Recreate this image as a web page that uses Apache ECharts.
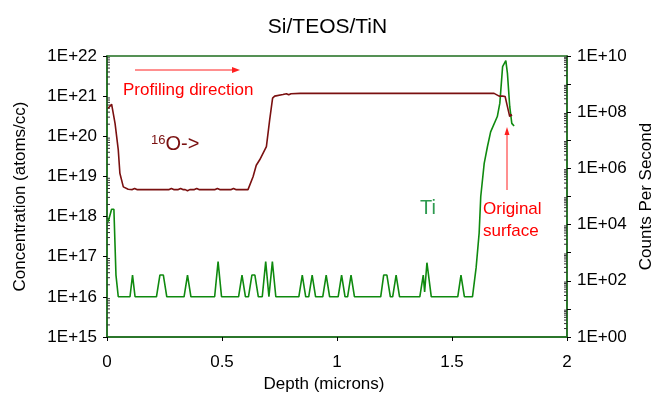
<!DOCTYPE html>
<html>
<head>
<meta charset="utf-8">
<script src="https://cdn.jsdelivr.net/npm/echarts@6/dist/echarts.min.js"></script>
<style>
  html, body { margin: 0; padding: 0; background: #fff; }
  #main { width: 655px; height: 394px; }
</style>
</head>
<body>
<div id="main"></div>
<script>
// depth profile, values
var oDepth = [0.005, 0.02, 0.027, 0.035, 0.049, 0.056, 0.071, 0.092, 0.11, 0.12, 0.13, 0.27, 0.28, 0.29,
  0.31, 0.32, 0.33, 0.34, 0.35, 0.36, 0.38, 0.39, 0.40, 0.47, 0.48, 0.49, 0.54, 0.55, 0.56, 0.613,
  0.635, 0.649, 0.664, 0.693, 0.707, 0.72, 0.729, 0.765, 0.78, 0.79, 0.80, 0.84, 1.683, 1.705, 1.72,
  1.731, 1.741, 1.751, 1.756, 1.76];
var oConc = [5.0e20, 6.3e20, 6.6e20, 2.1e20, 4.6e19, 1.2e19, 5.5e18, 4.8e18, 4.7e18, 5.0e18, 4.7e18, 4.7e18, 5.0e18, 4.7e18,
  4.7e18, 5.0e18, 4.7e18, 4.7e18, 4.4e18, 4.7e18, 4.7e18, 5.0e18, 4.7e18, 4.7e18, 5.0e18, 4.7e18, 4.7e18, 5.0e18, 4.7e18, 4.7e18,
  9.8e18, 1.9e19, 2.6e19, 5.5e19, 2.5e20, 8.9e20, 1.0e21, 1.1e21, 1.15e21, 1.08e21, 1.15e21, 1.17e21, 1.17e21, 1.0e21, 1.0e21,
  9.8e20, 5.5e20, 3.1e20, 3.5e20, 3.2e20];

var tiDepth = [0.005, 0.02, 0.03, 0.039, 0.049, 0.10, 0.111, 0.122, 0.215, 0.23, 0.245, 0.26, 0.335, 0.35, 0.365,
  0.468, 0.483, 0.498, 0.572, 0.587, 0.602, 0.615, 0.63, 0.643, 0.658, 0.675, 0.69, 0.704, 0.719, 0.734,
  0.834, 0.849, 0.864, 0.877, 0.892, 0.907, 0.938, 0.953, 0.968, 1.005, 1.02, 1.035, 1.046, 1.061, 1.076,
  1.19, 1.203, 1.217, 1.232, 1.242, 1.257, 1.272, 1.36, 1.375, 1.381, 1.391, 1.41, 1.525, 1.539, 1.554,
  1.589, 1.605, 1.618, 1.625, 1.64, 1.654, 1.668, 1.697, 1.708, 1.72, 1.734, 1.741, 1.751, 1.76, 1.77];
var tiCounts = [1.26e4, 3.5e4, 3.5e4, 160, 27, 27, 160, 27, 27, 160, 160, 27, 27, 160, 27,
  27, 480, 27, 27, 160, 27, 27, 160, 160, 27, 27, 480, 27, 480, 27,
  27, 160, 27, 27, 160, 27, 27, 160, 27, 27, 160, 27, 27, 160, 27,
  27, 160, 160, 27, 27, 160, 27, 27, 160, 40, 440, 27, 27, 160, 27,
  27, 300, 5000, 1e5, 1.5e6, 5.9e6, 2e7, 7e7, 2.1e8, 4.2e9, 6.8e9, 2.4e9, 1.6e8, 4e7, 3.2e7];

var leftDecades = [15, 16, 17, 18, 19, 20, 21];
var rightDecades = [0, 1, 2, 3, 4, 5, 6, 7, 8, 9];

function pairs(xs, ys) {
  var out = [];
  for (var i = 0; i < xs.length; i++) out.push([xs[i], ys[i]]);
  return out;
}
function minorTicks(decades) {
  var out = [];
  decades.forEach(function (d) {
    for (var k = 2; k <= 9; k++) out.push([k * Math.pow(10, d)]);
  });
  return out;
}
function expOf(v) {
  return Math.round(Math.log(v) / Math.LN10);
}
function expLabel(v) {
  var e = expOf(v);
  return '1E+' + (e < 10 ? '0' + e : e);
}

var axisGreen = '#1e6e1e';
var font = 'Liberation Sans, Arial, sans-serif';

var chart = echarts.init(document.getElementById('main'));
chart.setOption({
  backgroundColor: '#fff',
  animation: false,
  textStyle: { fontFamily: font },
  title: {
    text: 'Si/TEOS/TiN',
    left: 'center',
    top: 12,
    textStyle: { fontSize: 21, fontWeight: 'normal', color: '#000', fontFamily: font }
  },
  grid: {
    left: 107, right: 88, top: 56, bottom: 57,
    outerBoundsMode: 'none', containLabel: false,
    show: true, borderColor: axisGreen, borderWidth: 1.5, backgroundColor: 'transparent'
  },
  xAxis: {
    type: 'value', min: 0, max: 2, interval: 0.5,
    name: 'Depth (microns)', nameLocation: 'middle', nameGap: 37,
    nameTextStyle: { fontSize: 17, color: '#000', fontFamily: font, padding: [0, 26, 0, 0] },
    axisLine: { lineStyle: { color: axisGreen, width: 1.5 } },
    axisTick: { length: 4, lineStyle: { color: '#000' } },
    axisLabel: { fontSize: 17, color: '#000', margin: 17, fontFamily: font },
    splitLine: { show: false }
  },
  yAxis: [{
    type: 'log', logBase: 10, min: 1e15, max: 1e22, interval: 1,
    name: 'Concentration (atoms/cc)', nameLocation: 'middle', nameGap: 78,
    nameTextStyle: { fontSize: 17, color: '#000', fontFamily: font },
    axisLine: { lineStyle: { color: axisGreen, width: 1.5 } },
    axisTick: { length: 4, lineStyle: { color: '#000' } },
    axisLabel: { fontSize: 17, color: '#000', margin: 10, formatter: expLabel, fontFamily: font },
    splitLine: { show: false }
  }, {
    type: 'log', logBase: 10, min: 1, max: 1e10, interval: 1,
    name: 'Counts Per Second', nameLocation: 'middle', nameGap: 68,
    nameTextStyle: { fontSize: 17, color: '#000', fontFamily: font },
    axisLine: { lineStyle: { color: axisGreen, width: 1.5 } },
    axisTick: { length: 4, lineStyle: { color: '#000' } },
    axisLabel: {
      fontSize: 17, color: '#000', margin: 10, fontFamily: font,
      formatter: function (v) { return expOf(v) % 2 === 0 ? expLabel(v) : ''; }
    },
    splitLine: { show: false }
  }],
  series: [{
    name: 'O', type: 'line', yAxisIndex: 0, showSymbol: false, symbol: 'none',
    data: pairs(oDepth, oConc),
    lineStyle: { color: '#7a1010', width: 1.6 }, z: 3
  }, {
    name: 'Ti', type: 'line', yAxisIndex: 1, showSymbol: false, symbol: 'none',
    data: pairs(tiDepth, tiCounts),
    lineStyle: { color: '#0f8a0f', width: 1.6 }, z: 2
  }, {
    // log minor ticks, left axis
    type: 'custom', yAxisIndex: 0, silent: true, clip: false,
    data: minorTicks(leftDecades),
    renderItem: function (params, api) {
      var p = api.coord([0, api.value(0)]);
      return { type: 'line', shape: { x1: p[0], y1: p[1], x2: p[0] + 3, y2: p[1] },
        style: { stroke: '#333', lineWidth: 1 } };
    },
    encode: { y: 0 }
  }, {
    // log minor ticks, right axis
    type: 'custom', yAxisIndex: 1, silent: true, clip: false,
    data: minorTicks(rightDecades),
    renderItem: function (params, api) {
      var p = api.coord([2, api.value(0)]);
      return { type: 'line', shape: { x1: p[0] - 3, y1: p[1], x2: p[0], y2: p[1] },
        style: { stroke: '#333', lineWidth: 1 } };
    },
    encode: { y: 0 }
  }],
  graphic: [
    { type: 'line', shape: { x1: 135, y1: 70, x2: 233, y2: 70 }, style: { stroke: '#ff2020', lineWidth: 1 } },
    { type: 'polygon', shape: { points: [[240, 70], [232, 67], [232, 73]] }, style: { fill: '#ff2020' } },
    { type: 'text', left: 123, top: 82, style: { text: 'Profiling direction', fill: '#ff0000', fontSize: 17, fontFamily: font } },
    { type: 'text', left: 151, top: 134, style: {
      text: '{s|16}{b|O->}', fontFamily: font,
      rich: { s: { fontSize: 13, fill: '#7a1010', verticalAlign: 'top', padding: [0, 0, 8, 0] },
              b: { fontSize: 20, fill: '#7a1010' } } } },
    { type: 'text', left: 420, top: 198, style: { text: 'Ti', fill: '#2e9a50', fontSize: 20, fontFamily: font } },
    { type: 'line', shape: { x1: 507, y1: 190, x2: 507, y2: 134 }, style: { stroke: '#ff2020', lineWidth: 1 } },
    { type: 'polygon', shape: { points: [[507, 127], [504.5, 135], [509.5, 135]] }, style: { fill: '#ff2020' } },
    { type: 'text', left: 483, top: 198, style: { text: 'Original\nsurface', fill: '#ff0000', fontSize: 17,
      lineHeight: 22, align: 'center', x: 30, fontFamily: font } }
  ]
});
</script>
</body>
</html>
